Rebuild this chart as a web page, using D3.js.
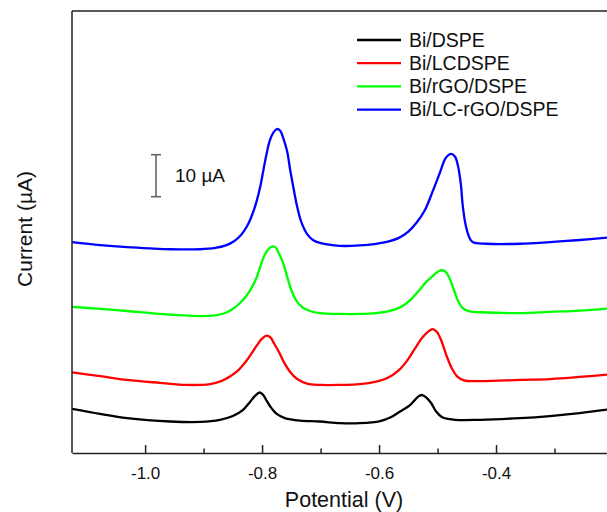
<!DOCTYPE html>
<html><head><meta charset="utf-8">
<script src="https://cdn.jsdelivr.net/npm/d3@7"></script>
<style>body{margin:0;background:#fff}svg{display:block}text{font-family:"Liberation Sans",Arial,sans-serif;fill:#111}</style>
</head><body><svg id="c" width="607" height="512"></svg>
<script>
const seriesNames = ["Bi/DSPE","Bi/LCDSPE","Bi/rGO/DSPE","Bi/LC-rGO/DSPE"];
const seriesColors = ["#000000","#ff0000","#00ff00","#0000ff"];
const xTickValues = [-1.0,-0.8,-0.6,-0.4];
const xMinorTicks = [-0.9,-0.7,-0.5,-0.3];
const blackV = [-1.125,-1.077,-1.031,-0.957,-0.906,-0.872,-0.850,-0.833,-0.821,-0.812,-0.804,-0.798,-0.792,-0.783,-0.775,-0.761,-0.735,-0.701,-0.667,-0.633,-0.598,-0.580,-0.564,-0.547,-0.537,-0.531,-0.526,-0.520,-0.511,-0.503,-0.492,-0.470,-0.427,-0.359,-0.308,-0.257,-0.200];
const blackI = [10.5,9.3,8.3,7.5,7.4,7.9,8.8,10.2,12.1,13.6,14.4,13.8,12.4,10.5,9.3,8.3,7.7,7.5,7.1,7.1,7.6,8.5,9.9,11.4,12.9,13.6,13.8,13.3,11.9,10.0,8.5,7.9,7.9,8.3,8.8,9.5,10.5];
const redV = [-1.125,-1.077,-1.031,-0.975,-0.929,-0.889,-0.870,-0.855,-0.840,-0.828,-0.818,-0.809,-0.801,-0.795,-0.790,-0.785,-0.780,-0.771,-0.763,-0.752,-0.740,-0.723,-0.701,-0.667,-0.633,-0.605,-0.585,-0.567,-0.552,-0.539,-0.527,-0.516,-0.508,-0.501,-0.494,-0.484,-0.475,-0.467,-0.455,-0.427,-0.359,-0.308,-0.257,-0.200];
const redI = [19.2,18.3,17.4,16.7,16.2,16.4,17.1,18.2,19.8,21.7,23.7,25.6,27.1,27.8,27.9,27.4,26.2,24.0,21.7,19.3,17.6,16.5,16.2,16.2,16.4,17.0,17.9,19.6,22.0,24.8,27.3,28.9,29.5,28.8,26.9,22.9,20.0,18.3,17.3,17.1,17.4,17.6,18.1,18.8];
const greenV = [-1.125,-1.077,-1.031,-0.975,-0.906,-0.884,-0.866,-0.852,-0.840,-0.828,-0.818,-0.809,-0.802,-0.795,-0.788,-0.781,-0.776,-0.771,-0.764,-0.757,-0.750,-0.742,-0.732,-0.718,-0.701,-0.667,-0.633,-0.605,-0.585,-0.565,-0.548,-0.532,-0.518,-0.506,-0.499,-0.492,-0.486,-0.479,-0.472,-0.465,-0.457,-0.445,-0.427,-0.359,-0.308,-0.257,-0.200];
const greenI = [34.8,34.3,33.8,33.1,32.6,32.7,33.2,34.1,35.4,37.2,39.3,41.9,44.8,47.3,48.7,49.2,48.8,47.4,45.2,41.9,38.8,36.4,34.8,33.8,33.3,33.1,33.1,33.3,33.7,34.6,36.2,38.6,40.9,42.4,43.2,43.5,43.1,41.4,38.8,36.2,34.5,33.7,33.5,33.3,33.6,33.9,34.5];
const blueV = [-1.125,-1.077,-1.031,-0.992,-0.957,-0.906,-0.880,-0.862,-0.848,-0.836,-0.826,-0.818,-0.810,-0.803,-0.797,-0.792,-0.787,-0.781,-0.775,-0.769,-0.764,-0.757,-0.752,-0.745,-0.740,-0.733,-0.723,-0.713,-0.701,-0.667,-0.633,-0.605,-0.585,-0.566,-0.550,-0.536,-0.522,-0.508,-0.496,-0.486,-0.477,-0.470,-0.465,-0.460,-0.457,-0.452,-0.446,-0.440,-0.416,-0.359,-0.308,-0.257,-0.200];
const blueI = [50.2,49.5,49.0,48.7,48.5,48.5,48.8,49.4,50.4,51.9,53.9,56.3,59.6,63.5,67.9,71.4,74.3,76.2,77.1,76.7,75.0,71.7,67.4,62.1,58.6,55.0,52.1,50.7,50.0,49.3,49.4,49.8,50.3,51.2,52.7,54.8,57.7,62.4,66.7,70.2,71.2,70.5,68.3,63.8,59.0,54.3,51.4,50.2,49.8,49.8,50.2,50.7,51.4];
const scaleBarBase = 61; const scaleBarSize = 10;

const svg = d3.select("#c");
const L=72, R=613, T=11, B=453;
const x = d3.scaleLinear().domain([-1.125,-0.2]).range([L,R]);
const y = d3.scaleLinear().domain([0,105.2]).range([B,T]);
svg.append("clipPath").attr("id","clip").append("rect").attr("x",L).attr("y",T).attr("width",R-L).attr("height",B-T);
const series = [[blackV,blackI],[redV,redI],[greenV,greenI],[blueV,blueI]];
const line = d3.line().x(d=>x(d[0])).y(d=>y(d[1])).curve(d3.curveCatmullRom.alpha(0.5));
series.forEach((s,i)=>{
  const pts = s[0].map((v,j)=>[v,s[1][j]]);
  svg.append("path").attr("clip-path","url(#clip)").attr("d",line(pts)).attr("fill","none").attr("stroke",seriesColors[i]).attr("stroke-width",2.3).attr("stroke-linejoin","round");
});
// frame
svg.append("line").attr("x1",L).attr("x2",607).attr("y1",T).attr("y2",T).attr("stroke","#222").attr("stroke-width",1.5);
svg.append("line").attr("x1",L).attr("x2",L).attr("y1",T).attr("y2",B).attr("stroke","#222").attr("stroke-width",1.5);
const xa = svg.append("g").attr("transform",`translate(0,${B})`).call(d3.axisBottom(x).tickValues(xTickValues).tickSizeInner(-8).tickSizeOuter(0).tickPadding(14).tickFormat(d3.format(".1f")));
xa.attr("font-size",17).attr("font-family","Liberation Sans, Arial, sans-serif");
xa.select(".domain").attr("stroke","#222").attr("stroke-width",1.5);
xa.selectAll(".tick line").attr("stroke","#222").attr("stroke-width",1.5);
xa.selectAll(".tick text").attr("fill","#111").text(d=>d3.format(".1f")(d).replace("−","-"));
const xm = svg.append("g").attr("transform",`translate(0,${B})`).call(d3.axisBottom(x).tickValues(xMinorTicks).tickSizeInner(-4.5).tickSizeOuter(0).tickFormat(""));
xm.select(".domain").remove();
xm.selectAll(".tick line").attr("stroke","#222").attr("stroke-width",1.5);
svg.append("text").attr("x",344).attr("y",507).attr("text-anchor","middle").attr("font-size",21.5).text("Potential (V)");
svg.append("text").attr("transform","translate(32,229) rotate(-90)").attr("text-anchor","middle").attr("font-size",21).text("Current (µA)");
// scale bar
const sbx=156;
const sb = svg.append("g").attr("stroke","#666").attr("stroke-width",1.6);
sb.append("line").attr("x1",sbx).attr("x2",sbx).attr("y1",y(scaleBarBase)).attr("y2",y(scaleBarBase+scaleBarSize));
sb.append("line").attr("x1",sbx-5).attr("x2",sbx+5).attr("y1",y(scaleBarBase)).attr("y2",y(scaleBarBase));
sb.append("line").attr("x1",sbx-5).attr("x2",sbx+5).attr("y1",y(scaleBarBase+scaleBarSize)).attr("y2",y(scaleBarBase+scaleBarSize));
svg.append("text").attr("x",175).attr("y",182).attr("font-size",19).text(scaleBarSize+" µA");
// legend
seriesNames.forEach((n,i)=>{
  const yy = 40 + i*23.2;
  svg.append("line").attr("x1",357).attr("x2",401).attr("y1",yy).attr("y2",yy).attr("stroke",seriesColors[i]).attr("stroke-width",2.3);
  svg.append("text").attr("x",409).attr("y",yy+6.5).attr("font-size",19.5).text(n);
});
</script></body></html>
